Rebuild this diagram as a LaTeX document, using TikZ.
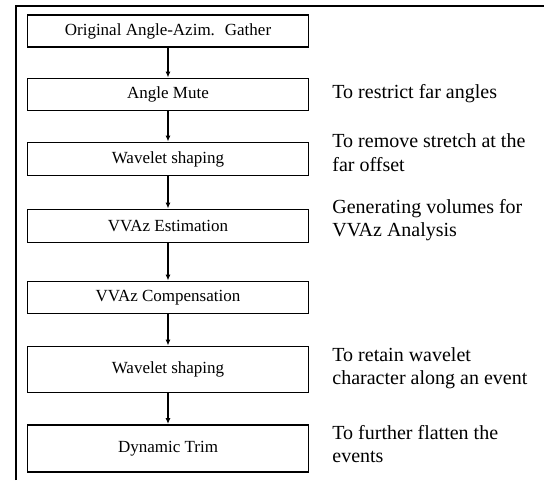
\documentclass[tikz,border=0pt]{standalone}
\usepackage{fontspec}
\setmainfont{Liberation Serif}
\usepackage{tikz}
\usetikzlibrary{arrows.meta,shapes}

\begin{document}
\begin{tikzpicture}[x=1pt, y=-1pt, thick,
    stepbox/.style={draw, line width=1.8pt, rectangle, minimum width=281pt, inner sep=0pt, font=\fontsize{17}{20}\selectfont},
    note/.style={anchor=west, align=left, inner sep=0pt, font=\fontsize{20}{23.5}\selectfont},
    flow/.style={-{Latex[length=6pt,width=5pt]}, line width=1.3pt}]
		\useasboundingbox (0,0) rectangle (544,480);
		% frame
		\draw[line width=2pt] (16,480) -- (16,6) -- (544,6);
		% steps
		\node[stepbox, minimum height=32pt] (orig) at (168,31) {Original Angle-Azim.~ Gather};
		\node[stepbox, minimum height=32pt] (mute) at (168,94.5) {Angle Mute};
		\node[stepbox, minimum height=33pt] (shape1) at (168,159) {Wavelet shaping};
		\node[stepbox, minimum height=33pt] (est) at (168,226) {VVAz Estimation};
		\node[stepbox, minimum height=32pt] (comp) at (168,297.5) {VVAz Compensation};
		\node[stepbox, minimum height=46pt] (shape2) at (168,369.5) {Wavelet shaping};
		\node[stepbox, minimum height=47pt] (trim) at (168,448.5) {Dynamic Trim};
		% arrows
		\draw[flow] (orig) -- (mute);
		\draw[flow] (mute) -- (shape1);
		\draw[flow] (shape1) -- (est);
		\draw[flow] (est) -- (comp);
		\draw[flow] (comp) -- (shape2);
		\draw[flow] (shape2) -- (trim);
		% notes
		\node[note] (nmute) at (332,94) {To restrict far angles};
		\node[note] (nshape1) at (332,152.5) {To remove stretch at the\\far offset};
		\node[note] (nest) at (332,220) {Generating volumes for\\VVAz Analysis};
		\node[note] (nshape2) at (332,368) {To retain wavelet\\character along an event};
		\node[note] (ntrim) at (332,444) {To further flatten the\\events};
	\end{tikzpicture}
\end{document}
